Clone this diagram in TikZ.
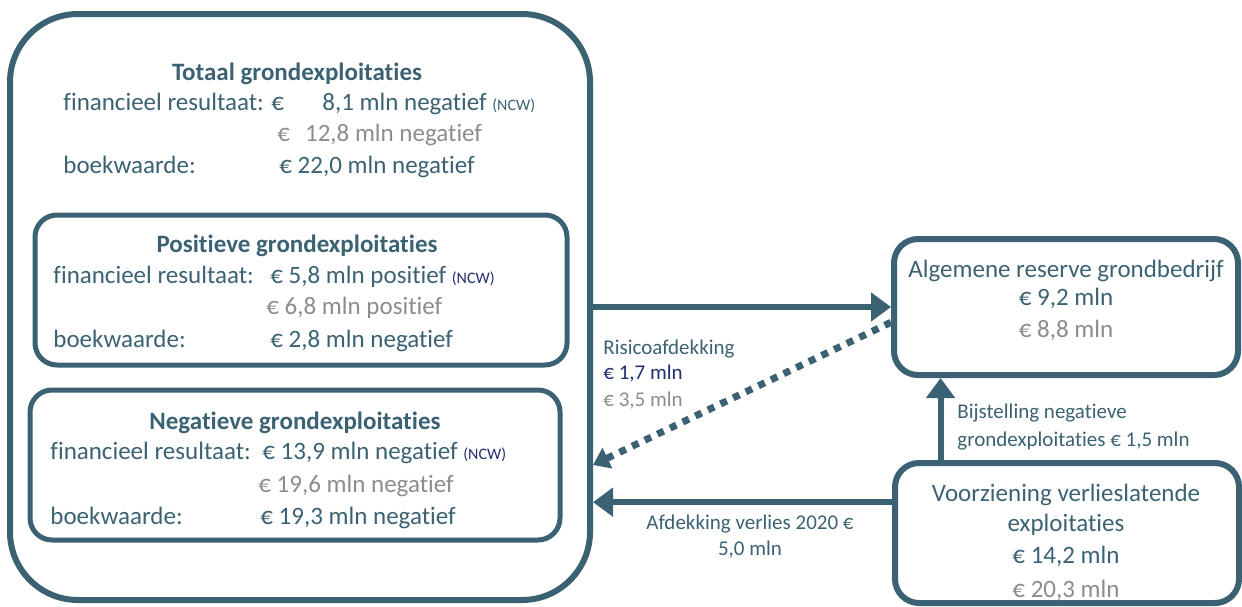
\documentclass[tikz,border=0pt]{standalone}
\usepackage{fontspec}
\setmainfont{Carlito}[Ligatures=NoCommon]
\usetikzlibrary{arrows.meta}

\definecolor{petrol}{HTML}{3B6273}
\definecolor{grijs}{HTML}{8C8C8C}
\definecolor{donkerblauw}{HTML}{1F2E6E}

\tikzset{
  kader/.style={draw=petrol, line width=2.5pt, rounded corners=11pt},
  tekst/.style={text=petrol, font=\fontsize{12.5}{15}\selectfont, inner sep=0pt, anchor=base west},
  kop/.style={tekst, font=\fontsize{12.5}{15}\selectfont\bfseries, anchor=base},
  oud/.style={tekst, text=grijs},
  klein/.style={tekst, font=\fontsize{10.5}{13}\selectfont},
  pijl/.style={draw=petrol, line width=3pt, -{Triangle[length=10pt,width=14pt]}}
}
\newcommand{\ncw}[1]{{\fontsize{8}{10}\selectfont #1}}

\begin{document}
\begin{tikzpicture}[x=0.5pt,y=-0.5pt]

\useasboundingbox (0,0) rectangle (1242,606) ;

\node [kader, line width=3pt, rounded corners=34pt, minimum width=290pt, minimum height=293pt] (tot) at (300,307) {} ;
\node [kader, minimum width=266pt, minimum height=75pt] (pos) at (301,290) {} ;
\node [kader, minimum width=265pt, minimum height=75pt] (neg) at (295,465) {} ;
\node [kader, line width=3pt, rounded corners=12pt, minimum width=172pt, minimum height=68pt] (alg) at (1066,307) {} ;
\node [kader, line width=3pt, rounded corners=12pt, minimum width=172pt, minimum height=70pt] (vz) at (1067,533) {} ;

\node [kop] (totkop) at (297,80) {Totaal grondexploitaties} ;
\node [tekst] (totfin) at (63,110) {financieel resultaat: €} ;
\node [tekst] (totfinw) at (322,110) {8,1 mln negatief \ncw{(NCW)}} ;
\node [oud] (totoud) at (277,141) {€\hspace{0.6em}12,8 mln negatief} ;
\node [tekst] (totbw) at (63,173) {boekwaarde:} ;
\node [tekst] (totbww) at (279,173) {€ 22,0 mln negatief} ;

\node [kop] (poskop) at (297,252) {Positieve grondexploitaties} ;
\node [tekst] (posfin) at (53,283) {financieel resultaat:} ;
\node [tekst] (posfinw) at (270,283) {€ 5,8 mln positief \textcolor{donkerblauw}{\ncw{(NCW)}}} ;
\node [oud] (posoud) at (266,314) {€ 6,8 mln positief} ;
\node [tekst] (posbw) at (53,347) {boekwaarde:} ;
\node [tekst] (posbww) at (270,347) {€ 2,8 mln negatief} ;

\node [kop] (negkop) at (295,429) {Negatieve grondexploitaties} ;
\node [tekst] (negfin) at (50,459) {financieel resultaat:} ;
\node [tekst] (negfinw) at (262,459) {€ 13,9 mln negatief \textcolor{donkerblauw}{\ncw{(NCW)}}} ;
\node [oud] (negoud) at (258,492) {€ 19,6 mln negatief} ;
\node [tekst] (negbw) at (50,524) {boekwaarde:} ;
\node [tekst] (negbww) at (260,524) {€ 19,3 mln negatief} ;

\node [tekst, anchor=base] (algnaam) at (1066,277) {Algemene reserve grondbedrijf} ;
\node [tekst, anchor=base] (algnu) at (1066,305) {€ 9,2 mln} ;
\node [oud, anchor=base] (algoud) at (1066,337) {€ 8,8 mln} ;

\node [tekst, anchor=base] (vznaam) at (1066,501) {Voorziening verlieslatende} ;
\node [tekst, anchor=base] (vznaam2) at (1066,531) {exploitaties} ;
\node [tekst, anchor=base] (vznu) at (1066,563) {€ 14,2 mln} ;
\node [oud, anchor=base] (vzoud) at (1066,597) {€ 20,3 mln} ;

\draw [pijl] (tot.east |- alg.west) to (alg.west) ;
\draw [draw=petrol, line width=3.5pt, dash pattern=on 3.5pt off 3.5pt, -{Triangle[length=8pt,width=11pt]}] (alg.185) to (tot.east |- neg) ;
\draw [pijl] (vz.170) to (tot.east |- vz.170) ;
\draw [pijl] (vz.150) to (vz.150 |- alg.south) ;

\node [klein] (risico) at (603,354) {Risicoafdekking} ;
\node [klein, text=donkerblauw] (risiconu) at (603,379) {€ 1,7 mln} ;
\node [klein, text=grijs] (risicooud) at (603,406) {€ 3,5 mln} ;

\node [klein] (bijst) at (957,418) {Bijstelling negatieve} ;
\node [klein] (bijst2) at (957,446) {grondexploitaties € 1,5 mln} ;

\node [klein, anchor=base] (afdek) at (750,529) {Afdekking verlies 2020 €} ;
\node [klein, anchor=base] (afdek2) at (750,555) {5,0 mln} ;

\end{tikzpicture}
\end{document}
